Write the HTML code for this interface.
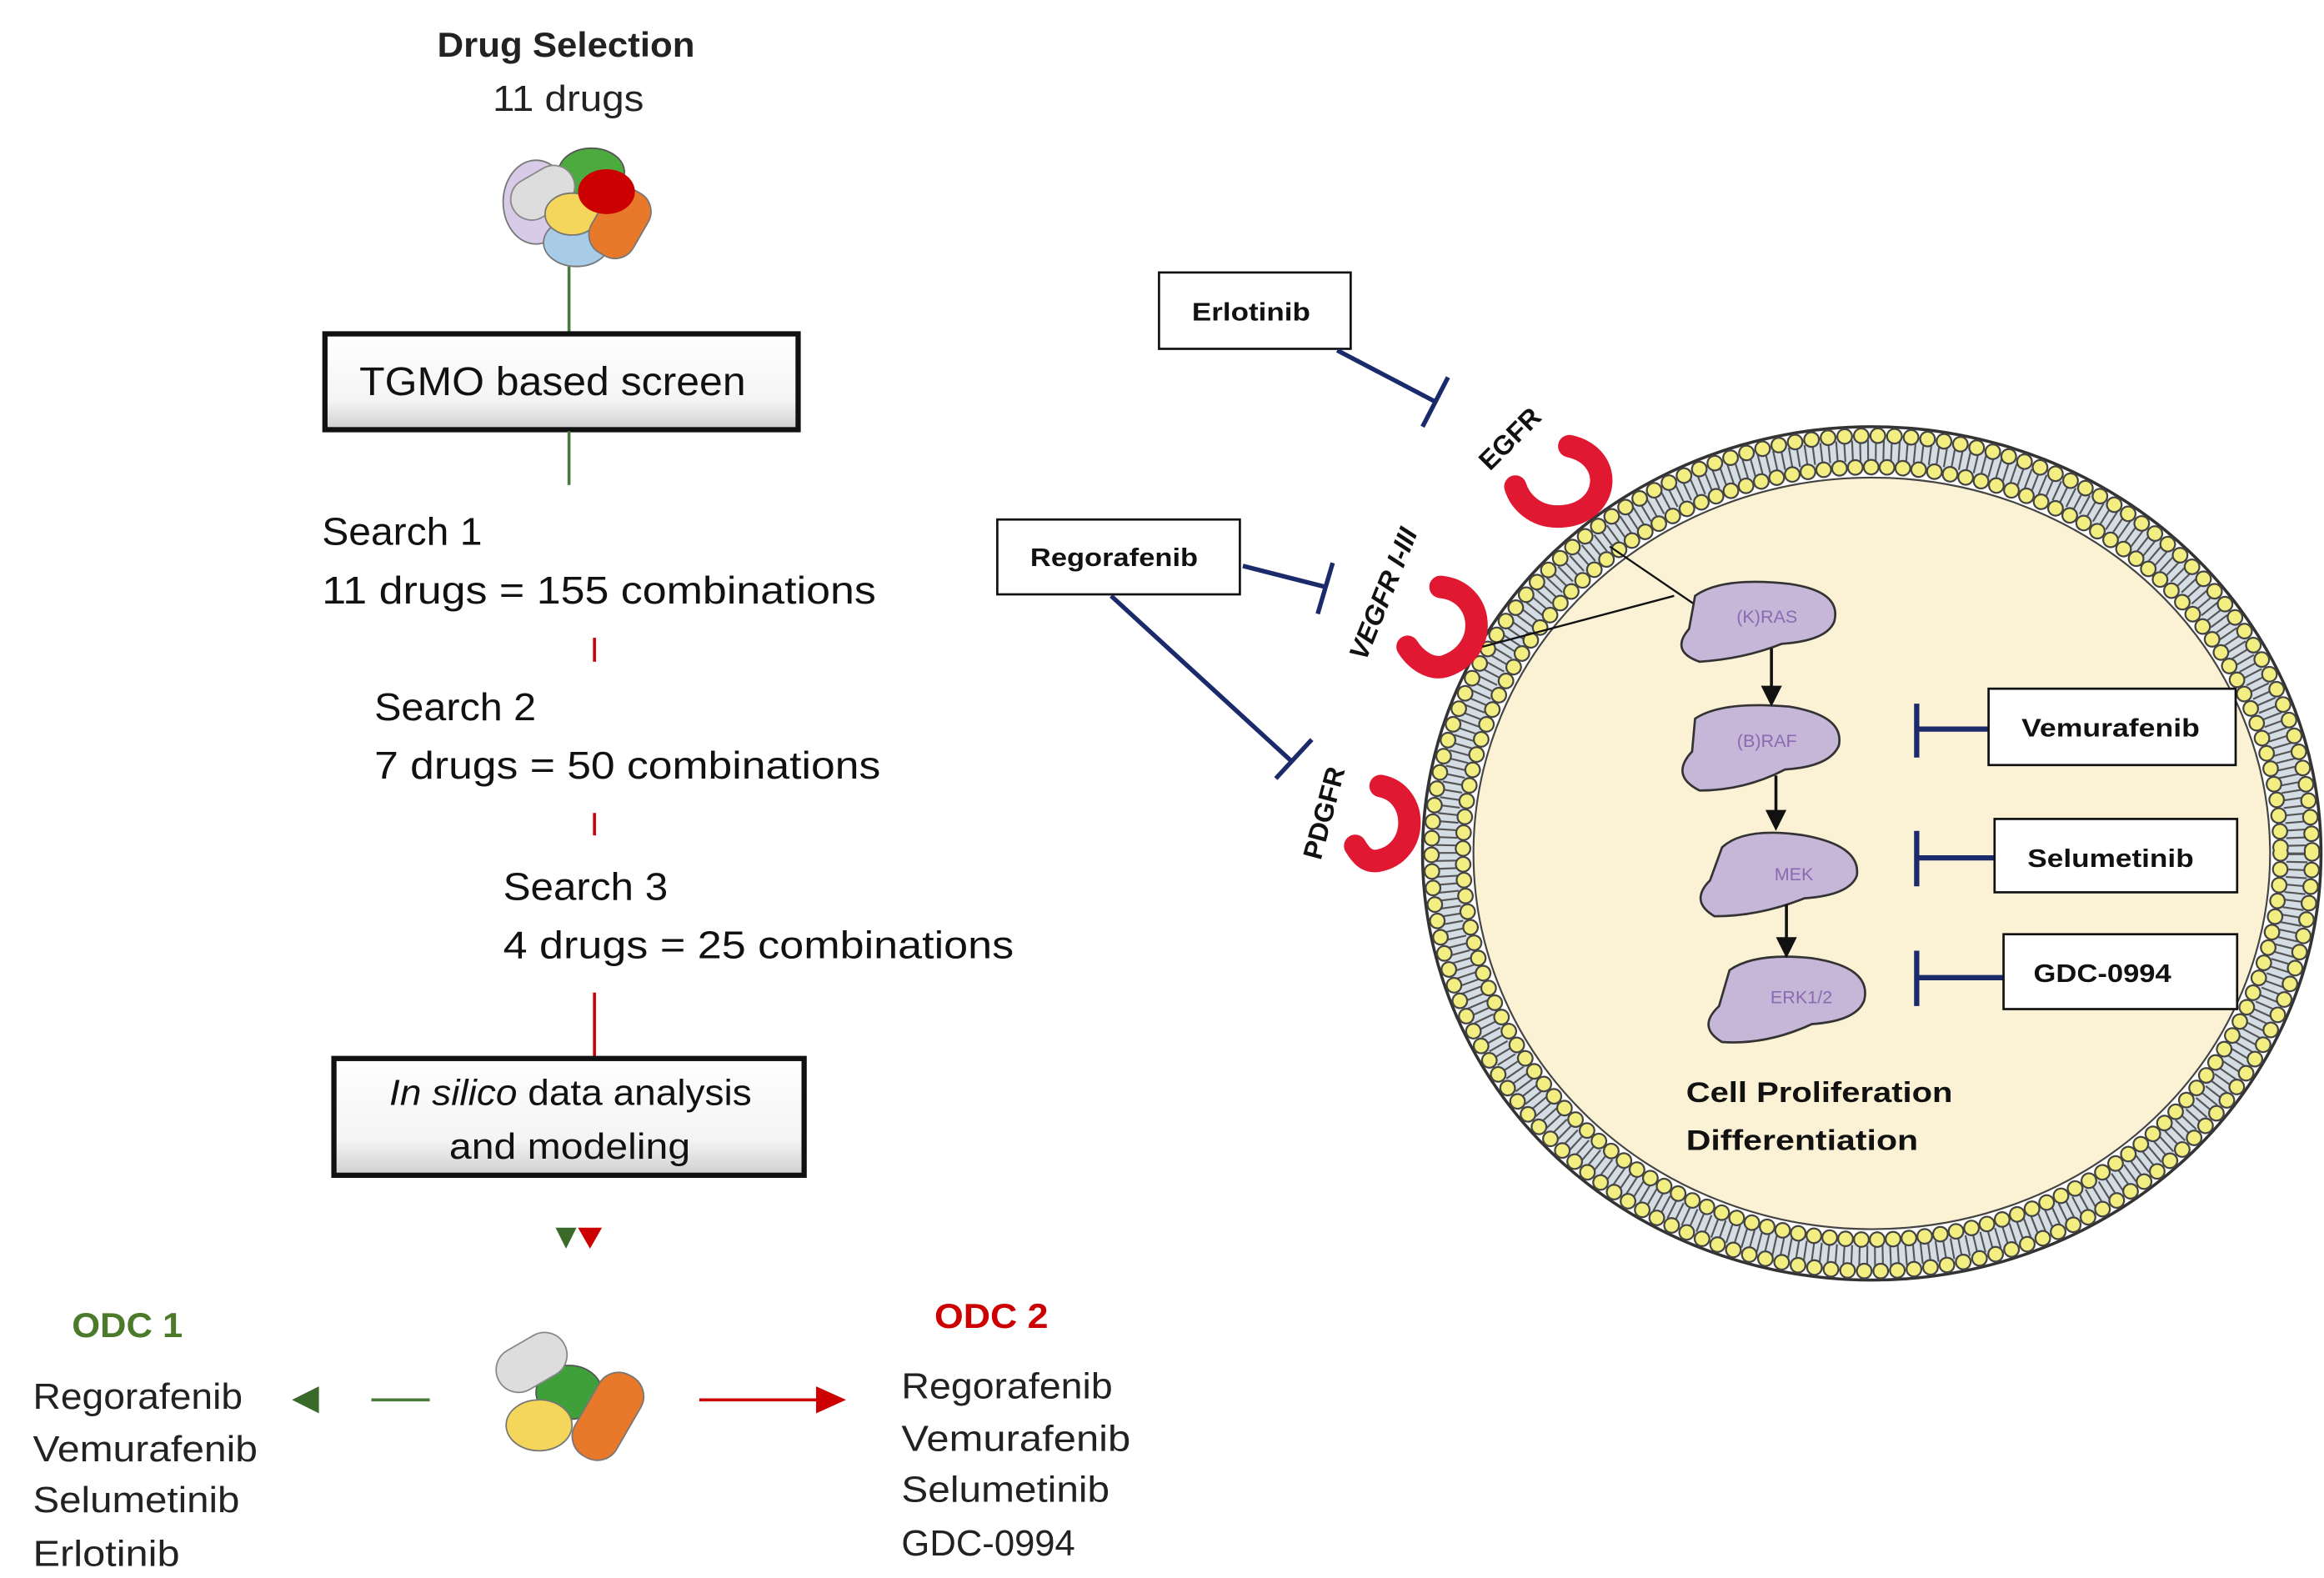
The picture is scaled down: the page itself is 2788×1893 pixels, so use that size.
<!DOCTYPE html>
<html><head><meta charset="utf-8"><style>
html,body{margin:0;padding:0;background:#fff}
svg{display:block}
text{font-family:"Liberation Sans",sans-serif}
</style></head><body>
<svg width="2788" height="1893" viewBox="0 0 1552 1054" preserveAspectRatio="none" xmlns="http://www.w3.org/2000/svg">
<defs>
<linearGradient id="bx" x1="0" y1="0" x2="0" y2="1"><stop offset="0" stop-color="#fff"/><stop offset="0.7" stop-color="#f4f4f4"/><stop offset="1" stop-color="#cfcfcf"/></linearGradient>
</defs>
<!-- left flow -->
<text x="292" y="38" font-size="23" font-weight="bold" fill="#222" textLength="172" lengthAdjust="spacingAndGlyphs">Drug Selection</text>
<text x="329" y="74" font-size="24" fill="#222" textLength="101" lengthAdjust="spacingAndGlyphs">11 drugs</text>
<!-- pills top -->
<g>
<ellipse cx="358" cy="135" rx="22" ry="28" fill="#d7cbe8" stroke="#777"/>
<ellipse cx="395" cy="115" rx="22" ry="16" fill="#4caa3e" stroke="#555"/>
<rect x="340" y="115" width="45" height="28" rx="14" fill="#ddd" stroke="#888" transform="rotate(-30 362 129)"/>
<ellipse cx="385" cy="162" rx="22" ry="16" fill="#a8cbe8" stroke="#777"/>
<ellipse cx="382" cy="143" rx="18" ry="14" fill="#f3d65a" stroke="#777"/>
<rect x="398" y="125" width="32" height="48" rx="14" fill="#e8782a" stroke="#777" transform="rotate(30 414 149)"/>
<ellipse cx="405" cy="128" rx="19" ry="15" fill="#c00" />
</g>
<line x1="380" y1="178" x2="380" y2="224" stroke="#4a7a3a" stroke-width="2"/>
<rect x="217" y="223" width="316" height="64" fill="url(#bx)" stroke="#111" stroke-width="3.5"/>
<text x="240" y="264" font-size="27" fill="#111" textLength="258" lengthAdjust="spacingAndGlyphs">TGMO based screen</text>
<line x1="380" y1="288" x2="380" y2="324" stroke="#4a7a3a" stroke-width="2"/>
<text x="215" y="364" font-size="26" fill="#111" textLength="107" lengthAdjust="spacingAndGlyphs">Search 1</text>
<text x="215" y="403" font-size="26" fill="#111" textLength="370" lengthAdjust="spacingAndGlyphs">11 drugs = 155 combinations</text>
<line x1="397" y1="426" x2="397" y2="442" stroke="#c00" stroke-width="2"/>
<text x="250" y="481" font-size="26" fill="#111" textLength="108" lengthAdjust="spacingAndGlyphs">Search 2</text>
<text x="250" y="520" font-size="26" fill="#111" textLength="338" lengthAdjust="spacingAndGlyphs">7 drugs = 50 combinations</text>
<line x1="397" y1="543" x2="397" y2="558" stroke="#c00" stroke-width="2"/>
<text x="336" y="601" font-size="26" fill="#111" textLength="110" lengthAdjust="spacingAndGlyphs">Search 3</text>
<text x="336" y="640" font-size="26" fill="#111" textLength="341" lengthAdjust="spacingAndGlyphs">4 drugs = 25 combinations</text>
<line x1="397" y1="663" x2="397" y2="706" stroke="#c00" stroke-width="2"/>
<rect x="223" y="707" width="314" height="78" fill="url(#bx)" stroke="#111" stroke-width="3.5"/>
<text x="260" y="738" font-size="24" fill="#111" textLength="242" lengthAdjust="spacingAndGlyphs"><tspan font-style="italic">In silico</tspan> data analysis</text>
<text x="300" y="774" font-size="24" fill="#111" textLength="161" lengthAdjust="spacingAndGlyphs">and modeling</text>
<polygon points="371,820 385,820 378,834" fill="#3a6a2a"/>
<polygon points="386,820 402,820 394,834" fill="#c00"/>
<!-- pills bottom -->
<g>
<ellipse cx="380" cy="930" rx="22" ry="18" fill="#3fa03a" stroke="#555"/>
<rect x="330" y="895" width="50" height="30" rx="15" fill="#ddd" stroke="#888" transform="rotate(-30 355 910)"/>
<ellipse cx="360" cy="952" rx="22" ry="17" fill="#f3d65a" stroke="#777"/>
<rect x="390" y="915" width="32" height="62" rx="15" fill="#e8782a" stroke="#777" transform="rotate(30 406 946)"/>
</g>
<text x="48" y="893" font-size="23" font-weight="bold" fill="#4a7a2a" textLength="74" lengthAdjust="spacingAndGlyphs">ODC 1</text>
<g font-size="24" fill="#222">
<text x="22" y="941" textLength="140" lengthAdjust="spacingAndGlyphs">Regorafenib</text><text x="22" y="976" textLength="150" lengthAdjust="spacingAndGlyphs">Vemurafenib</text><text x="22" y="1010" textLength="138" lengthAdjust="spacingAndGlyphs">Selumetinib</text><text x="22" y="1046" textLength="98" lengthAdjust="spacingAndGlyphs">Erlotinib</text>
</g>
<polygon points="195,935 213,926 213,944" fill="#3a6a2a"/>
<line x1="248" y1="935" x2="287" y2="935" stroke="#4a7a3a" stroke-width="2"/>
<line x1="467" y1="935" x2="548" y2="935" stroke="#c00" stroke-width="2"/>
<polygon points="565,935 545,926 545,944" fill="#c00"/>
<text x="624" y="887" font-size="23" font-weight="bold" fill="#c00" textLength="76" lengthAdjust="spacingAndGlyphs">ODC 2</text>
<g font-size="24" fill="#222">
<text x="602" y="934" textLength="141" lengthAdjust="spacingAndGlyphs">Regorafenib</text><text x="602" y="969" textLength="153" lengthAdjust="spacingAndGlyphs">Vemurafenib</text><text x="602" y="1003" textLength="139" lengthAdjust="spacingAndGlyphs">Selumetinib</text><text x="602" y="1039" textLength="116" lengthAdjust="spacingAndGlyphs">GDC-0994</text>
</g>
<!-- cell -->
<ellipse cx="1250" cy="570" rx="301" ry="286" fill="#333"/>
<ellipse cx="1250" cy="570" rx="299" ry="284" fill="#fff"/>
<ellipse cx="1250" cy="570" rx="284" ry="269" fill="none" stroke="#d4dce4" stroke-width="20"/>
<ellipse cx="1250" cy="570" rx="284" ry="269" fill="none" stroke="#555" stroke-width="14" stroke-dasharray="1.2 4"/>
<ellipse cx="1250" cy="570" rx="294" ry="279" fill="none" stroke="#444" stroke-width="11" stroke-dasharray="0.1 11" stroke-linecap="round"/>
<ellipse cx="1250" cy="570" rx="294" ry="279" fill="none" stroke="#f3ee82" stroke-width="8.5" stroke-dasharray="0.1 11" stroke-linecap="round"/>
<ellipse cx="1250" cy="570" rx="273" ry="258" fill="none" stroke="#444" stroke-width="11" stroke-dasharray="0.1 10.5" stroke-linecap="round"/>
<ellipse cx="1250" cy="570" rx="273" ry="258" fill="none" stroke="#f3ee82" stroke-width="8.5" stroke-dasharray="0.1 10.5" stroke-linecap="round"/>
<ellipse cx="1250" cy="570" rx="266" ry="251" fill="#fbf2d5" stroke="#444" stroke-width="1.2"/>
<!-- receptors -->
<g fill="none" stroke="#e01832" stroke-width="15" stroke-linecap="round">
<path d="M1048,298 C1080,305 1075,345 1040,345 C1025,345 1015,335 1012,325"/>
<path d="M962,392 C992,395 995,435 965,445 C955,448 945,440 940,432"/>
<path d="M922,525 C948,530 948,570 920,575 C912,576 908,570 905,565"/>
</g>
<text font-size="18" font-weight="bold" fill="#111" transform="translate(995,315) rotate(-45)">EGFR</text>
<text font-size="18" font-weight="bold" fill="#111" font-style="italic" transform="translate(912,442) rotate(-68)">VEGFR I-III</text>
<text font-size="18" font-weight="bold" fill="#111" transform="translate(882,575) rotate(-75)">PDGFR</text>
<!-- inhibitor boxes left -->
<rect x="774" y="182" width="128" height="51" fill="#fff" stroke="#111" stroke-width="1.5"/>
<text x="796" y="214" font-size="17" font-weight="bold" fill="#111" textLength="79" lengthAdjust="spacingAndGlyphs">Erlotinib</text>
<rect x="666" y="347" width="162" height="50" fill="#fff" stroke="#111" stroke-width="1.5"/>
<text x="688" y="378" font-size="17" font-weight="bold" fill="#111" textLength="112" lengthAdjust="spacingAndGlyphs">Regorafenib</text>
<g stroke="#1a2a6a" stroke-width="3" fill="none">
<path d="M893,234 L958,268 M950,285 L967,252"/>
<path d="M830,378 L885,392 M880,410 L890,376"/>
<path d="M742,398 L862,508 M852,520 L876,494"/>
</g>
<!-- lines to RAS -->
<path d="M1075,365 L1138,408 M1118,398 L990,432" stroke="#111" stroke-width="1.3" fill="none"/>
<!-- proteins -->
<g fill="#c6b6d8" stroke="#333" stroke-width="1.5">
<path d="M1132,398 Q1150,385 1195,390 Q1230,395 1225,415 Q1220,428 1190,430 Q1165,440 1135,442 Q1115,435 1128,420 Z"/>
<path d="M1132,480 Q1150,468 1195,472 Q1232,478 1228,498 Q1222,512 1192,514 Q1165,528 1135,528 Q1115,518 1130,502 Z"/>
<path d="M1150,566 Q1165,552 1205,558 Q1243,565 1240,585 Q1235,598 1205,600 Q1175,612 1145,612 Q1128,602 1142,588 Z"/>
<path d="M1155,648 Q1172,636 1210,640 Q1250,646 1245,668 Q1240,682 1210,684 Q1180,698 1150,696 Q1133,686 1148,672 Z"/>
</g>
<g font-size="12" fill="#8a6ab0" text-anchor="middle">
<text x="1180" y="416">(K)RAS</text><text x="1180" y="499">(B)RAF</text><text x="1198" y="588">MEK</text><text x="1203" y="670">ERK1/2</text>
</g>
<g stroke="#111" stroke-width="2"><line x1="1183" y1="433" x2="1183" y2="462"/><line x1="1186" y1="518" x2="1186" y2="545"/><line x1="1193" y1="604" x2="1193" y2="630"/></g>
<g fill="#111"><polygon points="1176,458 1190,458 1183,472"/><polygon points="1179,541 1193,541 1186,555"/><polygon points="1186,626 1200,626 1193,640"/></g>
<!-- right inhibitors -->
<g stroke="#1a2a6a" stroke-width="3.5"><path d="M1280,487 L1328,487 M1280,470 L1280,506"/><path d="M1280,573 L1332,573 M1280,555 L1280,592"/><path d="M1280,653 L1338,653 M1280,635 L1280,672"/></g>
<rect x="1328" y="460" width="165" height="51" fill="#fff" stroke="#111" stroke-width="1.5"/>
<text x="1350" y="492" font-size="17" font-weight="bold" fill="#111" textLength="119" lengthAdjust="spacingAndGlyphs">Vemurafenib</text>
<rect x="1332" y="547" width="162" height="49" fill="#fff" stroke="#111" stroke-width="1.5"/>
<text x="1354" y="579" font-size="17" font-weight="bold" fill="#111" textLength="111" lengthAdjust="spacingAndGlyphs">Selumetinib</text>
<rect x="1338" y="624" width="156" height="50" fill="#fff" stroke="#111" stroke-width="1.5"/>
<text x="1358" y="656" font-size="17" font-weight="bold" fill="#111" textLength="92" lengthAdjust="spacingAndGlyphs">GDC-0994</text>
<text x="1126" y="736" font-size="19" font-weight="bold" fill="#111" textLength="178" lengthAdjust="spacingAndGlyphs">Cell Proliferation</text>
<text x="1126" y="768" font-size="19" font-weight="bold" fill="#111" textLength="155" lengthAdjust="spacingAndGlyphs">Differentiation</text>
</svg>
</body></html>
